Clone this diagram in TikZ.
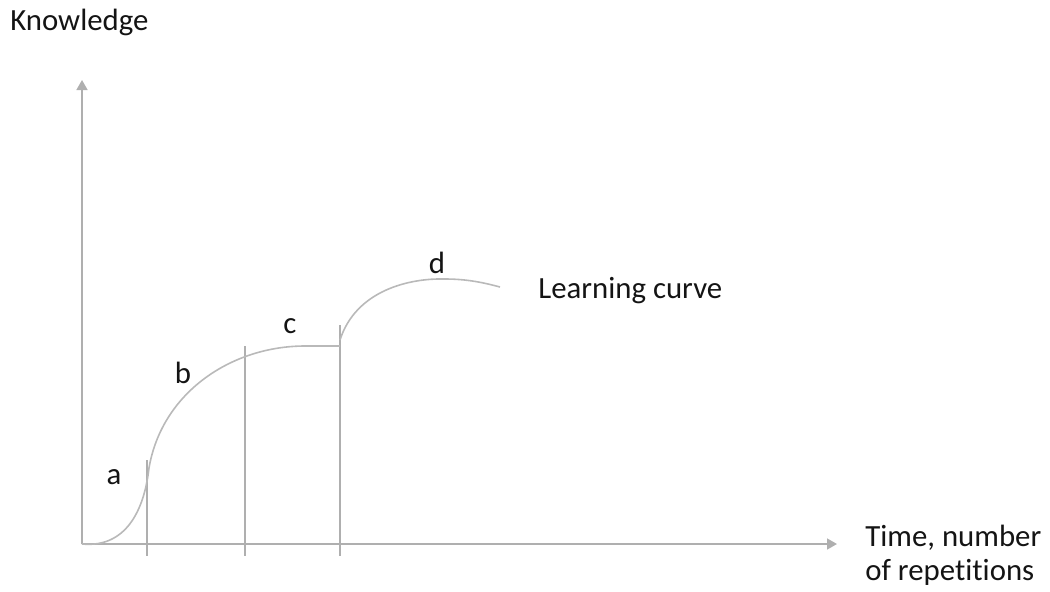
\documentclass[tikz,border=0pt]{standalone}
\usepackage{fontspec}
\setmainfont{Carlito}[Ligatures=NoCommon]
\usepackage{tikz}
\usetikzlibrary{arrows.meta}
\definecolor{axisG}{RGB}{175,175,175}
\definecolor{curveG}{RGB}{185,185,185}
\definecolor{textK}{RGB}{20,20,20}
\tikzset{
  axisline/.style={axisG, line width=0.8pt, -{Triangle[length=5pt, width=5.5pt]}},
  curveline/.style={curveG, line width=0.8pt},
  phaseline/.style={axisG, line width=0.7pt},
  lbl/.style={text=textK, font=\fontsize{15.4}{17}\selectfont, inner sep=0pt}
}

\begin{document}
\begin{tikzpicture}[x=0.5pt, y=-0.5pt]
\useasboundingbox (0,0) rectangle (1050,591);
% axes
\coordinate (O) at (82,544);
\coordinate (ytip) at (82,80);
\coordinate (xtip) at (837,544);
\draw[axisline] (O) -- (ytip);
\draw[axisline] (O) -- (xtip);
% phase separators
\draw[phaseline] (147,460) -- (147,556);
\draw[phaseline] (245,346) -- (245,556);
\draw[phaseline] (340,325) -- (340,556);
% learning curve, phases a to d
\draw[curveline] (O) .. controls (125,548) and (144,512) .. (149,468);
\draw[curveline] (149,468) .. controls (162,392) and (232,346) .. (305,346) -- (340,346);
\draw[curveline] (340,340) .. controls (356,290) and (410,278) .. (445,279)
  .. controls (468,279) and (485,283) .. (500,287);
% labels
\node[lbl] (pa) at (114,477) {a};
\node[lbl] (pb) at (183,373) {b};
\node[lbl] (pc) at (290,326) {c};
\node[lbl] (pd) at (437,263) {d};
\node[lbl, anchor=west] (curvename) at (538,291) {Learning curve};
\node[lbl, anchor=west] (ylabel) at (10,22) {Knowledge};
\node[lbl, anchor=north west, align=left] (xlabel) at (865,525)
  {Time, number\\of repetitions};
\end{tikzpicture}
\end{document}
